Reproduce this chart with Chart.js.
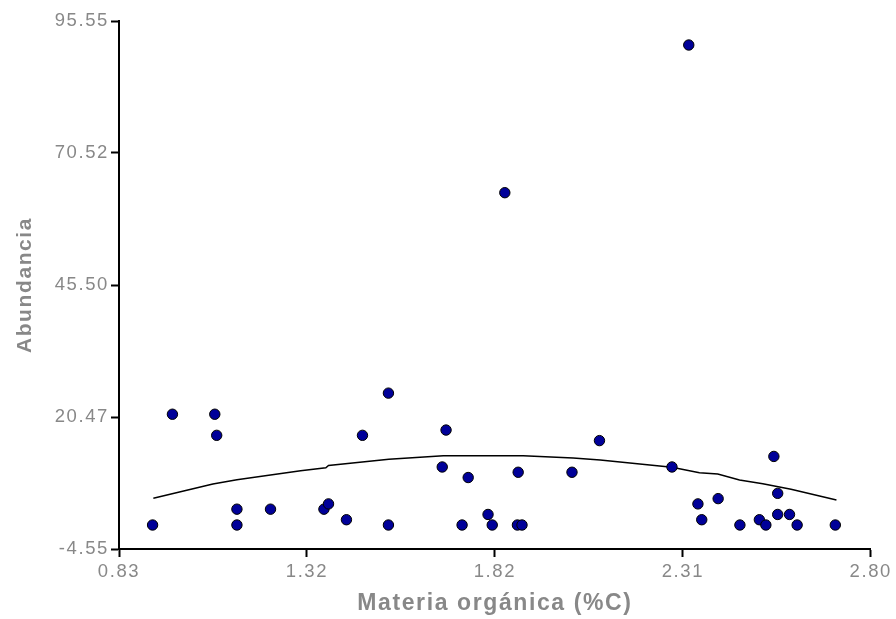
<!DOCTYPE html>
<html>
<head>
<meta charset="utf-8">
<script src="https://cdn.jsdelivr.net/npm/chart.js@4/dist/chart.umd.min.js"></script>
<style>
  html, body { margin: 0; padding: 0; background: #ffffff; }
  #wrap { width: 896px; height: 619px; position: relative; }
</style>
</head>
<body>
<div id="wrap"><canvas id="chart" width="896" height="619"></canvas></div>
<script>
// Organic matter (%C) of each sample and the abundance counted there
const organicMatter = [
  0.918, 0.970, 1.081, 1.086, 1.139, 1.139, 1.227, 1.367, 1.379, 1.426,
  1.468, 1.536, 1.536, 1.677, 1.687, 1.729, 1.745, 1.841, 1.797, 1.808,
  1.874, 1.876, 1.886, 2.017, 2.089, 2.323, 2.279, 2.347, 2.357, 2.400,
  2.457, 2.508, 2.525, 2.546, 2.556, 2.556, 2.587, 2.607, 2.707
];
const abundance = [
  0, 21, 21, 17, 3, 0, 3, 3, 4, 1,
  17, 25, 0, 11, 18, 0, 9, 63, 2, 0,
  0, 10, 0, 10, 16, 91, 11, 4, 1, 5,
  0, 1, 0, 13, 6, 2, 2, 0, 0
];

// Fitted trend curve
const fitX = [0.920, 1.076, 1.139, 1.227, 1.306, 1.372, 1.379, 1.537, 1.680, 1.889,
              2.020, 2.091, 2.279, 2.351, 2.399, 2.456, 2.517, 2.591, 2.710];
const fitY = [5.06, 7.77, 8.58, 9.47, 10.29, 10.86, 11.28, 12.45, 13.14, 13.14,
              12.70, 12.32, 10.94, 9.91, 9.67, 8.53, 7.83, 6.77, 4.74];

// Axis ticks
const xTickValues = [0.83, 1.3225, 1.815, 2.3075, 2.80];
const xTickLabels = ['0.83', '1.32', '1.82', '2.31', '2.80'];
const yTickValues = [-4.55, 20.475, 45.5, 70.525, 95.55];
const yTickLabels = ['-4.55', '20.47', '45.50', '70.52', '95.55'];

const xTitle = 'Materia orgánica (%C)';
const yTitle = 'Abundancia';

const FAMILY = '"Liberation Sans", Arial, Helvetica, sans-serif';
const GREY = '#888888';

const scatterPoints = organicMatter.map((x, i) => ({ x: x, y: abundance[i] }));
const fitPoints = fitX.map((x, i) => ({ x: x, y: fitY[i] }));

// Slightly spaced lettering for all chart text
const spacing = {
  id: 'spacing',
  beforeInit(chart) { chart.ctx.letterSpacing = '1.6px'; },
  beforeUpdate(chart) { chart.ctx.letterSpacing = '1.6px'; },
  beforeDraw(chart) { chart.ctx.letterSpacing = '1.6px'; }
};

new Chart(document.getElementById('chart'), {
  type: 'scatter',
  data: {
    datasets: [
      {
        type: 'line',
        data: fitPoints,
        borderColor: '#000000',
        borderWidth: 1.5,
        pointRadius: 0,
        fill: false,
        tension: 0,
        order: 2
      },
      {
        type: 'scatter',
        data: scatterPoints,
        backgroundColor: '#000099',
        borderColor: '#000000',
        borderWidth: 1,
        pointRadius: 5.2,
        pointHoverRadius: 5.2,
        order: 1
      }
    ]
  },
  plugins: [spacing],
  options: {
    responsive: false,
    animation: false,
    events: [],
    layout: { padding: { left: 0, right: 25, top: 21, bottom: 0 } },
    plugins: { legend: { display: false }, tooltip: { enabled: false } },
    scales: {
      x: {
        type: 'linear',
        position: 'bottom',
        min: 0.83,
        max: 2.80,
        afterBuildTicks(scale) { scale.ticks = xTickValues.map(v => ({ value: v })); },
        afterFit(scale) { scale.height = 70; },
        ticks: {
          autoSkip: false,
          maxRotation: 0,
          padding: 4,
          color: GREY,
          font: { family: FAMILY, size: 18.5 },
          callback: (value, index) => xTickLabels[index]
        },
        grid: {
          display: true,
          drawOnChartArea: false,
          drawTicks: true,
          tickLength: 8,
          tickWidth: 2,
          tickColor: '#000000'
        },
        border: { display: true, color: '#000000', width: 2 },
        title: {
          display: true,
          text: xTitle,
          color: GREY,
          font: { family: FAMILY, size: 23, weight: 'bold' },
          padding: { top: 0, bottom: 2 }
        }
      },
      y: {
        type: 'linear',
        position: 'left',
        min: -4.55,
        max: 95.55,
        afterBuildTicks(scale) { scale.ticks = yTickValues.map(v => ({ value: v })); },
        afterFit(scale) { scale.width = 119; },
        ticks: {
          autoSkip: false,
          padding: 2,
          color: GREY,
          font: { family: FAMILY, size: 18.5 },
          callback: (value, index) => yTickLabels[index]
        },
        grid: {
          display: true,
          drawOnChartArea: false,
          drawTicks: true,
          tickLength: 8,
          tickWidth: 2,
          tickColor: '#000000'
        },
        border: { display: true, color: '#000000', width: 2 },
        title: {
          display: true,
          text: yTitle,
          color: GREY,
          font: { family: FAMILY, size: 21, weight: 'bold' },
          padding: { top: 13, bottom: 0 }
        }
      }
    }
  }
});
</script>
</body>
</html>
